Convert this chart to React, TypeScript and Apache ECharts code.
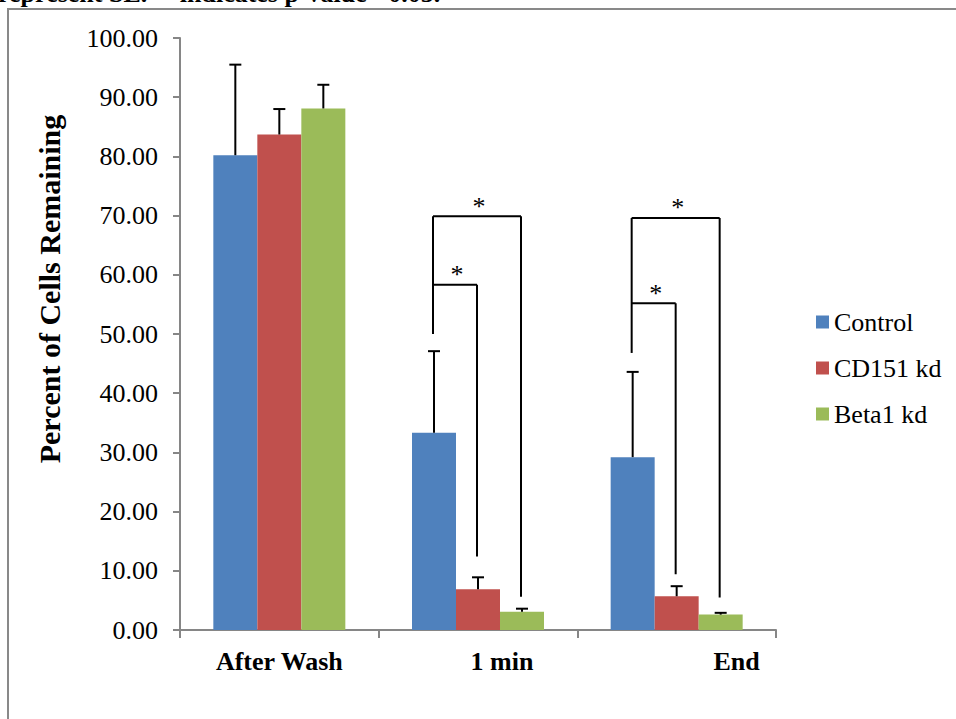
import React, { useEffect, useRef } from "react";
import * as echarts from "echarts";

const categories = ["After Wash", "1 min", "End"];
const seriesNames = ["Control", "CD151 kd", "Beta1 kd"];
const controlValues = [80.2, 33.3, 29.2];
const cd151Values = [83.7, 6.9, 5.7];
const beta1Values = [88.1, 3.1, 2.6];
const controlSE = [15.3, 13.8, 14.4];
const cd151SE = [4.3, 2.0, 1.7];
const beta1SE = [4.0, 0.5, 0.3];
const yMin = 0;
const yMax = 100;
const yInterval = 10;
const titleText = "represent SE.  * indicates p-value <0.05.";
// [categoryIndex, fromSeries, toSeries, topValue, leftBottomValue, rightBottomValue]
const brackets = [
  [1, 0, 2, 69.9, 50.0, 5.6],
  [1, 0, 1, 58.3, 58.3, 12.4],
  [2, 0, 2, 69.6, 46.8, 5.5],
  [2, 0, 1, 55.2, 55.2, 9.4],
];

const colors = ["#4F81BD", "#C0504D", "#9BBB59"];
const BAR_W = 44;
const seriesOffsets = [-BAR_W, 0, BAR_W];
const FONT = '"Liberation Serif", "Times New Roman", serif';

export default function App() {
  const ref = useRef<HTMLDivElement>(null);
  useEffect(() => {
    if (!ref.current) return;
    const chart = echarts.init(ref.current, null, { renderer: "svg" });
    const values = [controlValues, cd151Values, beta1Values];
    const ses = [controlSE, cd151SE, beta1SE];

    const barSeries = seriesNames.map((name, s) => ({
      name,
      type: "bar",
      data: values[s],
      barWidth: BAR_W,
      barGap: "0%",
      itemStyle: { color: colors[s] },
      z: 2,
    }));

    const errSeries = seriesNames.map((name, s) => ({
      name: "err-" + name,
      type: "custom",
      data: values[s].map((v, i) => [i, v, ses[s][i]]),
      encode: { x: 0, y: 1 },
      z: 3,
      clip: false,
      silent: true,
      renderItem: (params: any, api: any) => {
        const c = api.coord([api.value(0), api.value(1)]);
        const t = api.coord([api.value(0), api.value(1) + api.value(2)]);
        const x = c[0] + seriesOffsets[s];
        return {
          type: "group",
          children: [
            { type: "line", shape: { x1: x, y1: c[1], x2: x, y2: t[1] }, style: { stroke: "#000", lineWidth: 2 } },
            { type: "line", shape: { x1: x - 6, y1: t[1], x2: x + 6, y2: t[1] }, style: { stroke: "#000", lineWidth: 2 } },
          ],
        };
      },
    }));

    const bracketSeries = {
      name: "brackets",
      type: "custom",
      data: brackets,
      encode: { x: 0, y: 3 },
      z: 4,
      clip: false,
      silent: true,
      renderItem: (params: any, api: any) => {
        const cat = api.value(0);
        const fromS = api.value(1);
        const toS = api.value(2);
        const top = api.coord([cat, api.value(3)]);
        const lb = api.coord([cat, api.value(4)]);
        const rb = api.coord([cat, api.value(5)]);
        const xl = top[0] + seriesOffsets[fromS] - 1;
        const xr = top[0] + seriesOffsets[toS] - 1;
        const mid = (xl + xr) / 2 + 2;
        return {
          type: "group",
          children: [
            { type: "line", shape: { x1: xl, y1: top[1], x2: xl, y2: lb[1] }, style: { stroke: "#000", lineWidth: 2 } },
            { type: "line", shape: { x1: xl, y1: top[1], x2: xr, y2: top[1] }, style: { stroke: "#000", lineWidth: 2 } },
            { type: "line", shape: { x1: xr, y1: top[1], x2: xr, y2: rb[1] }, style: { stroke: "#000", lineWidth: 2 } },
            {
              type: "text",
              x: mid,
              y: top[1] - 10,
              style: {
                text: "*",
                fill: "#000",
                font: "26px " + FONT,
                align: "center",
                verticalAlign: "middle",
                textAlign: "center",
                textVerticalAlign: "middle",
              },
            },
          ],
        };
      },
    };

    const labelPads = [0, 48, 120];

    chart.setOption({
      animation: false,
      backgroundColor: "#fff",
      textStyle: { fontFamily: FONT },
      graphic: [
        {
          type: "rect",
          shape: { x: 8, y: 9, width: 1200, height: 1000 },
          style: { fill: "none", stroke: "#898989", lineWidth: 2 },
          z: 0,
          silent: true,
        },
        {
          type: "text",
          x: -2,
          y: -7,
          style: {
            text: titleText,
            fill: "#000",
            font: "bold 26px " + FONT,
            align: "left",
            verticalAlign: "middle",
            textAlign: "left",
            textVerticalAlign: "middle",
          },
          z: 10,
        },
      ],
      grid: { left: 180, right: 180, top: 38, bottom: 89, containLabel: false },
      legend: {
        orient: "vertical",
        left: 811,
        top: 304,
        data: seriesNames,
        icon: "rect",
        itemWidth: 13,
        itemHeight: 13,
        itemGap: 20,
        textStyle: { fontSize: 26, lineHeight: 26, color: "#000", fontFamily: FONT },
      },
      xAxis: {
        type: "category",
        data: categories,
        axisLine: { lineStyle: { color: "#868686", width: 2 } },
        axisTick: { show: true, alignWithLabel: false, interval: 0, length: 8, lineStyle: { color: "#868686", width: 2 } },
        axisLabel: {
          interval: 0,
          hideOverlap: false,
          margin: 18,
          color: "#000",
          fontFamily: FONT,
          fontSize: 26,
          fontWeight: "bold",
          formatter: (v: string, i: number) => `{c${i}|${v}}`,
          rich: {
            c0: { padding: [0, 0, 0, labelPads[0]], fontSize: 26, fontWeight: "bold", fontFamily: FONT },
            c1: { padding: [0, 0, 0, labelPads[1]], fontSize: 26, fontWeight: "bold", fontFamily: FONT },
            c2: { padding: [0, 0, 0, labelPads[2]], fontSize: 26, fontWeight: "bold", fontFamily: FONT },
          },
        },
      },
      yAxis: {
        type: "value",
        min: yMin,
        max: yMax,
        interval: yInterval,
        name: "Percent of Cells Remaining",
        nameLocation: "middle",
        nameGap: 116,
        nameTextStyle: {
          fontSize: 30,
          fontWeight: "bold",
          color: "#000",
          fontFamily: FONT,
          padding: [0, 0, 0, 90],
        },
        splitLine: { show: false },
        axisLine: { show: true, lineStyle: { color: "#868686", width: 2 } },
        axisTick: { show: true, length: 7, lineStyle: { color: "#868686", width: 2 } },
        axisLabel: {
          margin: 22,
          color: "#000",
          fontSize: 26,
          fontFamily: FONT,
          formatter: (v: number) => v.toFixed(2),
        },
      },
      series: [...barSeries, ...errSeries, bracketSeries],
    });
    return () => chart.dispose();
  }, []);
  return (
    <div
      ref={ref}
      style={{ position: "fixed", left: 0, top: 0, width: 956, height: 719, background: "#fff" }}
    />
  );
}
